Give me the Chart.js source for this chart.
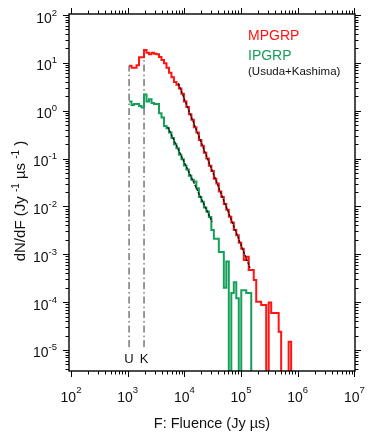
<!DOCTYPE html>
<html><head><meta charset="utf-8">
<script src="https://cdn.jsdelivr.net/npm/chart.js@4.4.0/dist/chart.umd.min.js"></script>
<style>html,body{margin:0;padding:0;background:#fff}canvas{display:block}</style>
</head><body>
<canvas id="c" width="382" height="439"></canvas>
<script>
// log10 of histogram bin edges (F in Jy µs)
const binLogEdges = [3.025, 3.069, 3.113, 3.157, 3.201, 3.245, 3.289, 3.333, 3.377, 3.421,
  3.465, 3.509, 3.553, 3.597, 3.641, 3.685, 3.729, 3.773, 3.817, 3.861,
  3.905, 3.949, 3.993, 4.037, 4.081, 4.125, 4.169, 4.213, 4.257, 4.301,
  4.345, 4.389, 4.433, 4.477, 4.521, 4.565, 4.609, 4.653, 4.697, 4.741,
  4.785, 4.829, 4.873, 4.917, 4.961, 5.005, 5.049, 5.093, 5.137, 5.181,
  5.225, 5.269, 5.313, 5.357, 5.401, 5.445, 5.489, 5.533, 5.577, 5.621,
  5.665, 5.709, 5.753, 5.797, 5.841, 5.885, 5.929];
// dN/dF per bin (0 = empty bin)
const mpgrpValues = [8.7, 7.9, 7.9, 8.9, 13.1, 13.1, 18.6, 16.2, 15.1, 16.2,
  15.5, 15.1, 13.2, 11.5, 9.8, 7.9, 6.2, 5.0, 4.0, 3.5,
  2.9, 2.25, 1.55, 1.2, 0.84, 0.65, 0.45, 0.35, 0.245, 0.185,
  0.133, 0.1, 0.071, 0.055, 0.038, 0.03, 0.0205, 0.0158, 0.0112, 0.0085,
  0.0061, 0.0046, 0.0032, 0.0025, 0.00175, 0.0013, 0.00076, 0.00089, 0.00047, 0.00047,
  0.00029, 0.000102, 0.000102, 0.000087, 0.000087, 0, 0.000098, 0.000059, 0.000059, 0.000059,
  0.000024, 0, 0, 0, 0.0000148, 0];
const ipgrpValues = [1.55, 1.32, 1.38, 1.38, 1.26, 1.17, 2.19, 1.55, 1.74, 1.45,
  1.38, 1.38, 0.89, 0.72, 0.48, 0.43, 0.35, 0.27, 0.2, 0.165,
  0.12, 0.097, 0.072, 0.059, 0.044, 0.036, 0.033, 0.024, 0.0158, 0.0125,
  0.0095, 0.0078, 0.006, 0.0032, 0.0021, 0.0021, 0.00112, 0.00112, 0.0002, 0.00071,
  0, 0.000155, 0.00026, 0.00012, 0, 0.000178, 0.000178, 0.000155, 0.000155, 0];
// power-law fits (end points)
const mpgrpFitF = [7820, 144000];
const mpgrpFitValues = [3.74, 5.18e-4];
const ipgrpFitF = [5080, 30900];
const ipgrpFitValues = [0.463, 4.79e-3];
// detection thresholds
const markerLabels = ['U', 'K'];
const markerF = [1059, 1945];
const markerTop = [8.7, 18.6];
const markerBottom = [1.15e-5, 1.15e-5];
// axis tick labels (powers of ten)
const xTickExponents = ['2', '3', '4', '5', '6', '7'];
const yTickExponents = ['2', '1', '0', '-1', '-2', '-3', '-4', '-5'];
const legendLabels = ['MPGRP', 'IPGRP', '(Usuda+Kashima)'];

const RED = '#ff1414', GREEN = '#15a05a';
const FLOOR = 1e-7;
const FONT = '"Liberation Sans", Arial, sans-serif';

function histPoints(values) {
  const pts = values.map((v, i) => ({ x: Math.pow(10, binLogEdges[i]), y: v > 0 ? v : FLOOR }));
  pts.push({ x: Math.pow(10, binLogEdges[values.length]), y: FLOOR });
  return pts;
}
function pairPoints(xs, ys) { return xs.map((x, i) => ({ x: x, y: ys[i] })); }

const datasets = [];
datasets.push({ data: pairPoints(mpgrpFitF, mpgrpFitValues), borderColor: '#111', borderWidth: 1.3, borderDash: [3, 1], order: 0 });
datasets.push({ data: pairPoints(ipgrpFitF, ipgrpFitValues), borderColor: '#111', borderWidth: 1.3, borderDash: [3, 1], order: 0 });
markerF.forEach((f, i) => {
  datasets.push({ data: [{ x: f, y: markerBottom[i] }, { x: f, y: markerTop[i] }], borderColor: '#333',
    borderWidth: 1, borderDash: [7, 3, 1.5, 3], order: 3 });
});
datasets.push({ label: legendLabels[0], data: histPoints(mpgrpValues), borderColor: RED, borderWidth: 2, stepped: 'before', order: 2 });
datasets.push({ label: legendLabels[1], data: histPoints(ipgrpValues), borderColor: GREEN, borderWidth: 2, stepped: 'before', order: 1 });

function drawRich(ctx, parts, x, y, align, base, sup, rise) {
  let w = 0;
  parts.forEach(p => { ctx.font = (p.s ? sup : base) + 'px ' + FONT; w += ctx.measureText(p.t).width; });
  let cx = align === 'center' ? x - w / 2 : (align === 'right' ? x - w : x);
  ctx.textAlign = 'left'; ctx.textBaseline = 'alphabetic';
  parts.forEach(p => {
    ctx.font = (p.s ? sup : base) + 'px ' + FONT;
    ctx.fillText(p.t, cx, p.s ? y - rise : y);
    cx += ctx.measureText(p.t).width;
  });
}

const axesPlugin = {
  id: 'axesPlugin',
  afterDraw(chart) {
    const { ctx, chartArea: a, scales: { x, y } } = chart;
    ctx.save();
    ctx.strokeStyle = '#000';
    ctx.lineWidth = 1;
    ctx.beginPath();
    for (let d = 1; d <= 7; d++) for (let k = 1; k <= 9; k++) {
      const v = k * Math.pow(10, d);
      if (v < x.min || v > x.max) continue;
      const px = Math.round(x.getPixelForValue(v)) + 0.5;
      const len = k === 1 ? 6 : 3.5;
      ctx.moveTo(px, a.bottom); ctx.lineTo(px, a.bottom + len);
      ctx.moveTo(px, a.top); ctx.lineTo(px, a.top - len);
    }
    for (let d = -6; d <= 2; d++) for (let k = 1; k <= 9; k++) {
      const v = k * Math.pow(10, d);
      if (v < y.min || v > y.max) continue;
      const py = Math.round(y.getPixelForValue(v)) + 0.5;
      const len = k === 1 ? 6 : 3.5;
      ctx.moveTo(a.left, py); ctx.lineTo(a.left - len, py);
      ctx.moveTo(a.right, py); ctx.lineTo(a.right + len, py);
    }
    ctx.stroke();
    ctx.lineWidth = 1.4;
    ctx.strokeRect(a.left, a.top, a.right - a.left, a.bottom - a.top);

    ctx.fillStyle = '#111';
    xTickExponents.forEach(e => {
      const px = x.getPixelForValue(Math.pow(10, +e));
      drawRich(ctx, [{ t: '10' }, { t: e, s: true }], px, 402, 'center', 14, 9.5, 9);
    });
    yTickExponents.forEach(e => {
      const py = y.getPixelForValue(Math.pow(10, +e));
      drawRich(ctx, [{ t: '10' }, { t: e, s: true }], 57, py + 7.5, 'right', 14, 9.5, 7);
    });
    // axis titles
    drawRich(ctx, [{ t: 'F: Fluence (Jy µs)' }], 212, 428, 'center', 14.5, 9, 0);
    ctx.save();
    ctx.translate(25, 201);
    ctx.rotate(-Math.PI / 2);
    drawRich(ctx, [{ t: 'dN/dF (Jy ' }, { t: '-1', s: true }, { t: ' µs ' }, { t: '-1', s: true }, { t: ' )' }], 0, 0, 'center', 15, 10, 6.5);
    ctx.restore();
    // threshold labels
    markerLabels.forEach((l, i) => {
      drawRich(ctx, [{ t: l }], x.getPixelForValue(markerF[i]), 363, 'center', 13, 9, 0);
    });
    // legend
    ctx.fillStyle = RED; drawRich(ctx, [{ t: legendLabels[0] }], 248, 40, 'left', 14, 9, 0);
    ctx.fillStyle = GREEN; drawRich(ctx, [{ t: legendLabels[1] }], 248, 60, 'left', 14, 9, 0);
    ctx.fillStyle = '#111'; drawRich(ctx, [{ t: legendLabels[2] }], 248, 75, 'left', 11.5, 9, 0);
    ctx.restore();
  }
};

new Chart(document.getElementById('c'), {
  type: 'line',
  data: { datasets: datasets },
  options: {
    responsive: false,
    animation: false,
    events: [],
    layout: { padding: { left: 69, right: 27, top: 14, bottom: 68 } },
    elements: { point: { radius: 0 }, line: { tension: 0, fill: false } },
    datasets: { line: { clip: 0 } },
    plugins: { legend: { display: false }, tooltip: { enabled: false } },
    scales: {
      x: { type: 'logarithmic', min: Math.pow(10, 1.965), max: Math.pow(10, 7.012), display: false },
      y: { type: 'logarithmic', min: Math.pow(10, -5.439), max: Math.pow(10, 2.021), display: false }
    }
  },
  plugins: [axesPlugin]
});
</script>
</body></html>
